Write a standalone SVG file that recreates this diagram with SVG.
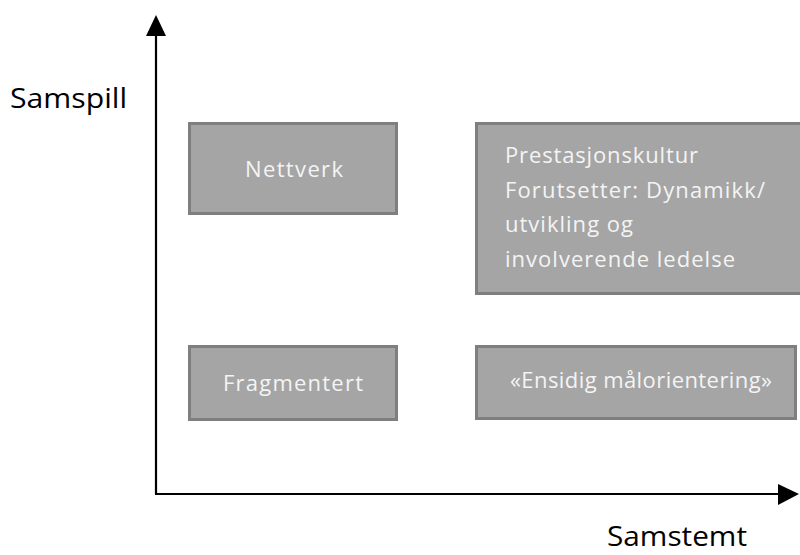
<svg xmlns="http://www.w3.org/2000/svg" width="800" height="555" viewBox="0 0 800 555">
  <style>
    .box { fill: #a5a5a5; stroke: #7f7f7f; stroke-width: 3; }
    .boxtext { font-family: "Open Sans", "Liberation Sans", sans-serif; font-size: 22px; fill: #f4f4f4; }
    .axislabel { font-family: "Open Sans", "Liberation Sans", sans-serif; font-size: 27px; fill: #000000; }
    .axis { stroke: #000000; stroke-width: 2.2; fill: none; }
  </style>
  <rect width="800" height="555" fill="#ffffff"/>

  <!-- axes -->
  <g id="connectors">
    <line class="axis" x1="156" y1="494" x2="156" y2="32"/>
    <polygon points="156,15 146,36 166,36" fill="#000000"/>
    <line class="axis" x1="155" y1="494" x2="782" y2="494"/>
    <polygon points="799,494 778,484 778,505" fill="#000000"/>
  </g>

  <g id="label-samspill">
    <text class="axislabel" x="10" y="108" textLength="117" lengthAdjust="spacingAndGlyphs">Samspill</text>
  </g>
  <g id="label-samstemt">
    <text class="axislabel" x="607" y="546" font-size="25" textLength="140" lengthAdjust="spacingAndGlyphs">Samstemt</text>
  </g>

  <g id="nettverk">
    <rect class="box" x="189.5" y="123.5" width="207" height="90"/>
    <text class="boxtext" x="245" y="177" textLength="98" lengthAdjust="spacing">Nettverk</text>
  </g>

  <g id="prestasjonskultur">
    <rect class="box" x="476.5" y="123.5" width="330" height="170"/>
    <text class="boxtext" x="505" y="163" textLength="193" lengthAdjust="spacing">Prestasjonskultur</text>
    <text class="boxtext" x="505" y="198" textLength="260" lengthAdjust="spacing">Forutsetter: Dynamikk/</text>
    <text class="boxtext" x="505" y="232" textLength="128" lengthAdjust="spacing">utvikling og</text>
    <text class="boxtext" x="505" y="267" textLength="230" lengthAdjust="spacing">involverende ledelse</text>
  </g>

  <g id="fragmentert">
    <rect class="box" x="189.5" y="346.5" width="207" height="73"/>
    <text class="boxtext" x="223" y="391" textLength="140" lengthAdjust="spacing">Fragmentert</text>
  </g>

  <g id="ensidig">
    <rect class="box" x="476.5" y="346.5" width="319" height="72"/>
    <text class="boxtext" x="510" y="388" textLength="262" lengthAdjust="spacing">«Ensidig målorientering»</text>
  </g>
</svg>
